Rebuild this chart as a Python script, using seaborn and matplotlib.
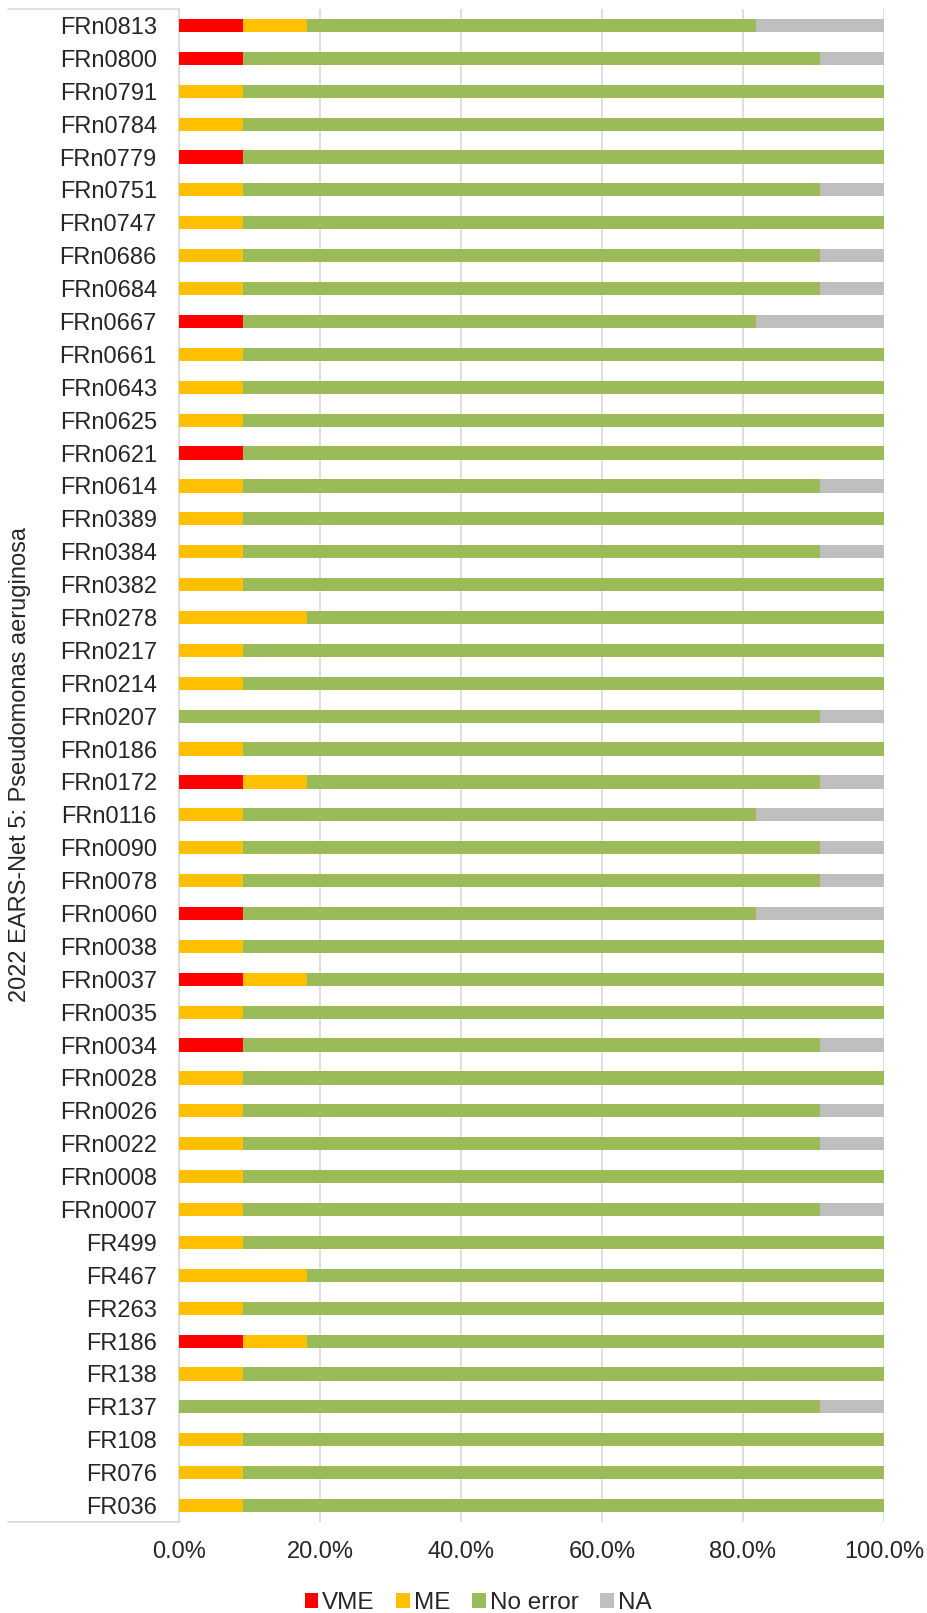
import numpy as np
import pandas as pd
import seaborn as sns
import matplotlib.pyplot as plt
from matplotlib.patches import Patch
from matplotlib.lines import Line2D
from matplotlib.ticker import PercentFormatter

# isolates, top to bottom
isolates = ["FRn0813", "FRn0800", "FRn0791", "FRn0784", "FRn0779", "FRn0751", "FRn0747",
            "FRn0686", "FRn0684", "FRn0667", "FRn0661", "FRn0643", "FRn0625", "FRn0621",
            "FRn0614", "FRn0389", "FRn0384", "FRn0382", "FRn0278", "FRn0217", "FRn0214",
            "FRn0207", "FRn0186", "FRn0172", "FRn0116", "FRn0090", "FRn0078", "FRn0060",
            "FRn0038", "FRn0037", "FRn0035", "FRn0034", "FRn0028", "FRn0026", "FRn0022",
            "FRn0008", "FRn0007", "FR499", "FR467", "FR263", "FR186", "FR138", "FR137",
            "FR108", "FR076", "FR036"]

# percentages per isolate
vme = [9.09, 9.09, 0, 0, 9.09, 0, 0, 0, 0, 9.09, 0, 0, 0, 9.09, 0, 0, 0, 0, 0, 0, 0,
       0, 0, 9.09, 0, 0, 0, 9.09, 0, 9.09, 0, 9.09, 0, 0, 0, 0, 0, 0, 0, 0, 9.09, 0, 0,
       0, 0, 0]
me = [9.09, 0, 9.09, 9.09, 0, 9.09, 9.09, 9.09, 9.09, 0, 9.09, 9.09, 9.09, 0, 9.09,
      9.09, 9.09, 9.09, 18.18, 9.09, 9.09, 0, 9.09, 9.09, 9.09, 9.09, 9.09, 0, 9.09,
      9.09, 9.09, 0, 9.09, 9.09, 9.09, 9.09, 9.09, 9.09, 18.18, 9.09, 9.09, 9.09, 0,
      9.09, 9.09, 9.09]
no_error = [63.64, 81.82, 90.91, 90.91, 90.91, 81.82, 90.91, 81.82, 81.82, 72.73, 90.91,
            90.91, 90.91, 90.91, 81.82, 90.91, 81.82, 90.91, 81.82, 90.91, 90.91, 90.91,
            90.91, 72.73, 72.73, 81.82, 81.82, 72.73, 90.91, 81.82, 90.91, 81.82, 90.91,
            81.82, 81.82, 90.91, 81.82, 90.91, 81.82, 90.91, 81.82, 90.91, 90.91, 90.91,
            90.91, 90.91]
na = [18.18, 9.09, 0, 0, 0, 9.09, 0, 9.09, 9.09, 18.18, 0, 0, 0, 0, 9.09, 0, 9.09, 0, 0,
      0, 0, 9.09, 0, 9.09, 18.18, 9.09, 9.09, 18.18, 0, 0, 0, 9.09, 0, 9.09, 9.09, 0,
      9.09, 0, 0, 0, 0, 0, 9.09, 0, 0, 0]

series = ["VME", "ME", "No error", "NA"]
colors = ["#FF0000", "#FFC000", "#9BBB59", "#BFBFBF"]

df = pd.DataFrame({"isolate": isolates, "VME": vme, "ME": me,
                   "No error": no_error, "NA": na})
cum = df[series].cumsum(axis=1)

sns.set_style("white")
plt.rcParams["font.family"] = ["Liberation Sans", "DejaVu Sans"]

fig = plt.figure(figsize=(9.28, 16.13), dpi=100)
ax = fig.add_axes([179 / 928, 1 - 1522 / 1613, 705 / 928, 1513 / 1613])

# stacked bars: draw cumulative totals from the back
for name, col in zip(series[::-1], colors[::-1]):
    sns.barplot(x=cum[name], y=df["isolate"], color=col, orient="h", width=0.4,
                saturation=1, linewidth=0, ax=ax, zorder=3)

ax.set_xlim(0, 100)
ax.set_ylim(len(isolates) - 0.5, -0.5)
ax.set_xticks([0, 20, 40, 60, 80, 100])
ax.xaxis.set_major_formatter(PercentFormatter(100, decimals=1))
ax.grid(axis="x", color="#D9D9D9", linewidth=1.2, zorder=0)
ax.grid(axis="y", visible=False)
ax.set_axisbelow(True)
ax.set_xlabel("")
ax.set_ylabel("")
for s in ["top", "right", "bottom"]:
    ax.spines[s].set_visible(False)
ax.spines["left"].set_color("#D9D9D9")
ax.spines["left"].set_linewidth(1.2)
ax.tick_params(axis="y", length=0, pad=16, labelsize=17)
ax.tick_params(axis="x", length=0, pad=14, labelsize=17)

# category group brackets (top and bottom of the label area)
for yy in [9, 1522]:
    fig.add_artist(Line2D([8 / 928, 179 / 928], [1 - yy / 1613, 1 - yy / 1613],
                          color="#D9D9D9", linewidth=1.2))

fig.text(20.5 / 928, 1 - 765 / 1613, "2022 EARS-Net 5: Pseudomonas aeruginosa",
         rotation=90, ha="center", va="center", fontsize=17)

handles = [Patch(facecolor=c, edgecolor="none", label=s) for s, c in zip(series, colors)]
fig.legend(handles=handles, loc="center", bbox_to_anchor=(478 / 928, 1 - 1603 / 1613),
           ncol=4, frameon=False, fontsize=17.5, handlelength=0.55, handleheight=0.55,
           handletextpad=0.17, columnspacing=0.9, borderpad=0)

fig.savefig("out.png", dpi=100)
